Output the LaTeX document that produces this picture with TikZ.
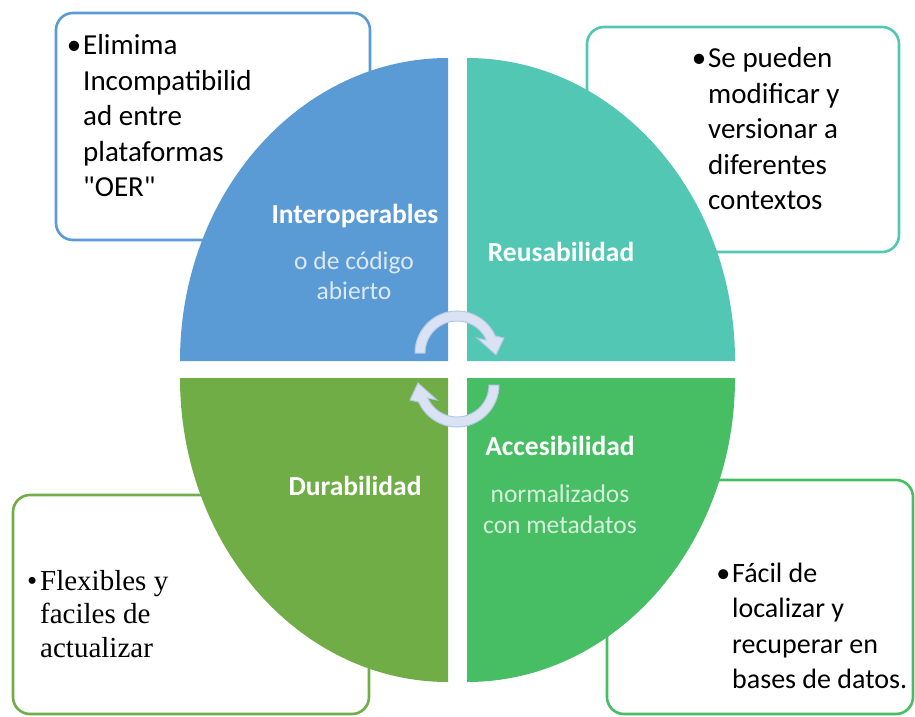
\documentclass[tikz,border=0pt]{standalone}
\usepackage{fontspec}
\setmainfont{Carlito}
\newfontfamily\timesfont{Liberation Serif}
\definecolor{interblue}{HTML}{5B9BD5}
\definecolor{reuseteal}{HTML}{52C8B4}
\definecolor{duragreen}{HTML}{70AD47}
\definecolor{accessgreen}{HTML}{48BE64}
\definecolor{cycfill}{HTML}{DAE3F3}
\definecolor{cycline}{HTML}{B4C7E7}
\begin{document}
\begin{tikzpicture}[x=1pt,y=1pt,
    notebox/.style={line width=2.6pt,rounded corners=17pt,fill=white},
    boxtext/.style={inner sep=0pt,anchor=base west,align=left,
      font=\fontsize{29}{35.5}\selectfont},
    title/.style={inner sep=0pt,anchor=base,text=white,
      font=\fontsize{27.5}{31}\selectfont\bfseries},
    sub/.style={inner sep=0pt,anchor=base,align=center,text=white,
      text opacity=.78,font=\fontsize{25.5}{30.5}\selectfont},
    cycarrow/.style={fill=cycfill,draw=cycline,line width=1pt}]
  \useasboundingbox (0,0) rectangle (915,716);
  % note boxes, behind the quarters
  \draw[notebox,draw=interblue] (56,703) rectangle (370,476);
  \draw[notebox,draw=reuseteal] (587,689) rectangle (899,464);
  \draw[notebox,draw=duragreen] (13,221) rectangle (369,2);
  \draw[notebox,draw=accessgreen] (607,236) rectangle (913,2);
  % the four quarters
  \fill[interblue] (448,355) -- (180,355)
    arc[start angle=180,end angle=90,x radius=268,y radius=303] -- cycle;
  \fill[reuseteal] (467,355) -- (467,658)
    arc[start angle=90,end angle=0,x radius=268,y radius=303] -- cycle;
  \fill[duragreen] (448,338) -- (448,34)
    arc[start angle=270,end angle=180,x radius=268,y radius=304] -- cycle;
  \fill[accessgreen] (467,338) -- (735,338)
    arc[start angle=0,end angle=-90,x radius=268,y radius=304] -- cycle;
  % cycle arrows
  \foreach \r in {0,180} {
    \begin{scope}[rotate around={\r:(457,347)}]
      \draw[cycarrow,shift={(457,363)}] (180:42)
        arc[start angle=180,end angle=24,radius=42] --
        (47,15) -- (39,-2) -- (20,15) -- (24:32)
        arc[start angle=24,end angle=180,radius=32] -- cycle;
    \end{scope}
  }
  % labels on the quarters (base = last line)
  \node[title] (interop) at (355,492) {Interoperables};
  \node[sub] (interopsub) at (354,416.5) {o de código\\abierto};
  \node[title] (reuse) at (561,454) {Reusabilidad};
  \node[title] (access) at (560,261) {Accesibilidad};
  \node[sub] (accesssub) at (560,183) {normalizados\\con metadatos};
  \node[title] (dura) at (355,221) {Durabilidad};
  % notes
  \node[boxtext] (interopnote) at (83,519)
    {\llap{•\kern2pt}Elimima\\Incompatibilid\\ad entre\\plataformas\\\textquotedbl OER\textquotedbl};
  \node[boxtext] (reusenote) at (708,506)
    {\llap{•\kern2pt}Se pueden\\modificar y\\versionar a\\diferentes\\contextos};
  \node[boxtext,font=\timesfont\fontsize{29}{33.5}\selectfont] (duranote) at (40,59)
    {\llap{•\kern3pt}Flexibles y\\faciles de\\actualizar};
  \node[boxtext,font=\fontsize{28}{35.5}\selectfont] (accessnote) at (732,27.5)
    {\llap{•\kern2pt}Fácil de\\localizar y\\recuperar en\\bases de datos.};
\end{tikzpicture}
\end{document}
